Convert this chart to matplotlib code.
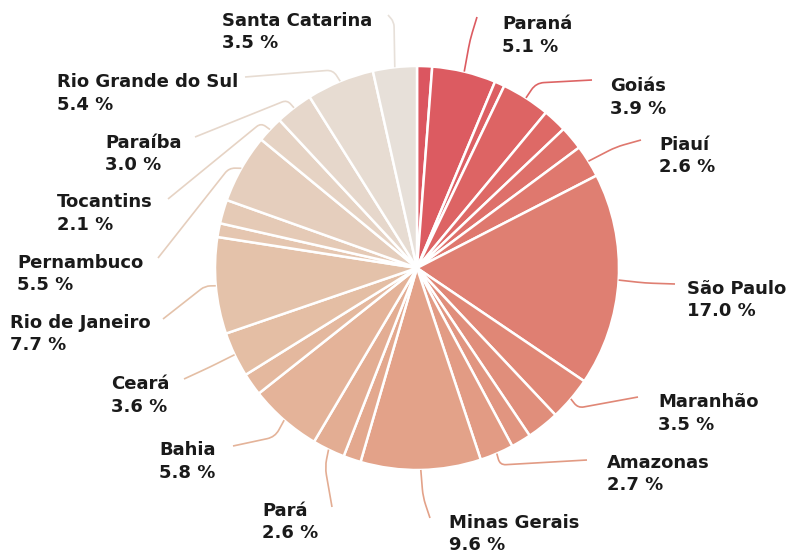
import numpy as np
import matplotlib
matplotlib.use("Agg")
from matplotlib import pyplot as plt
from matplotlib.colors import LinearSegmentedColormap
from matplotlib.path import Path
from matplotlib.patches import PathPatch

plt.rcParams['font.family'] = ['DejaVu Sans']

W, H = 791, 553

# fatias no sentido horário, começando no topo (rótulo vazio = estado sem legenda)
estados = ['', 'Paraná', '', 'Goiás', '', '', 'Piauí', 'São Paulo', 'Maranhão', '', '',
           'Amazonas', 'Minas Gerais', '', 'Pará', 'Bahia', '', 'Ceará', 'Rio de Janeiro',
           '', '', 'Pernambuco', 'Tocantins', 'Paraíba', 'Rio Grande do Sul', 'Santa Catarina']
percentual = [1.2, 5.1, 0.8, 3.9, 1.9, 1.9, 2.6, 17.0, 3.5, 2.6, 1.6,
              2.7, 9.6, 1.4, 2.6, 5.8, 1.8, 3.6, 7.7,
              1.1, 1.9, 5.5, 2.1, 3.0, 5.4, 3.5]

# posição dos textos e das linhas (pixels da imagem: x, y de cima para baixo)
# nome -> (texto_x, texto_y, joelho, ponta)
rotulos = {
    'Santa Catarina': (222, 21, (394, 22), (388, 15)),
    'Paraná': (502, 24, (470, 40), (477, 17)),
    'Goiás': (610, 86, (536, 83), (592, 80)),
    'Piauí': (659, 145, (616, 147), (641, 140)),
    'São Paulo': (687, 289, (645, 283), (675, 284)),
    'Maranhão': (658, 402, (578, 408), (638, 397)),
    'Amazonas': (607, 463, (500, 465), (587, 460)),
    'Minas Gerais': (449, 523, (423, 497), (430, 518)),
    'Pará': (262, 511, (325, 467), (332, 507)),
    'Bahia': (159, 450, (275, 437), (233, 446)),
    'Ceará': (111, 384, (210, 367), (184, 379)),
    'Rio de Janeiro': (10, 323, (205, 286), (163, 319)),
    'Pernambuco': (17, 263, (229, 168), (158, 258)),
    'Tocantins': (57, 202, (261, 123), (168, 199)),
    'Paraíba': (105, 143, (287, 100), (195, 137)),
    'Rio Grande do Sul': (57, 82, (333, 70), (245, 77)),
}

cmap = LinearSegmentedColormap.from_list(
    'br', ['#db5660', '#de6a66', '#e08a78', '#e3a58b', '#e4bca2', '#e5cdbb', '#e7e0d9'])
cores = [cmap(i / (len(percentual) - 1)) for i in range(len(percentual))]


def px(x, y):
    return (x, H - y)


def linha(ax, p0, p1, p2, cor, r=8):
    p0, p1, p2 = np.array(p0, float), np.array(p1, float), np.array(p2, float)
    d0 = p0 - p1
    d2 = p2 - p1
    r = min(r, np.linalg.norm(d0) / 2, np.linalg.norm(d2) / 2)
    a = p1 + r * d0 / np.linalg.norm(d0)
    b = p1 + r * d2 / np.linalg.norm(d2)
    verts = [p0, a, p1, b, p2]
    codes = [Path.MOVETO, Path.LINETO, Path.CURVE3, Path.CURVE3, Path.LINETO]
    ax.add_patch(PathPatch(Path(verts, codes), fill=False, edgecolor=cor, lw=1.2))


fig = plt.figure(figsize=(W / 100, H / 100), dpi=100)
ax = fig.add_axes([0, 0, 1, 1])

wedges, _ = ax.pie(percentual, colors=cores, startangle=90, counterclock=False,
                   center=px(417, 268), radius=202, frame=True,
                   wedgeprops=dict(edgecolor='white', linewidth=1.8))
ax.set_xlim(0, W)
ax.set_ylim(0, H)
ax.axis('off')

for w, nome, val, cor in zip(wedges, estados, percentual, cores):
    if not nome:
        continue
    tx, ty, joelho, ponta = rotulos[nome]
    meio = np.deg2rad((w.theta1 + w.theta2) / 2)
    borda = (w.center[0] + w.r * np.cos(meio), w.center[1] + w.r * np.sin(meio))
    linha(ax, borda, px(*joelho), px(*ponta), cor)
    ax.text(*px(tx, ty), nome, ha='left', va='center', fontsize=13,
            fontweight='bold', color='#1a1a1a')
    ax.text(*px(tx, ty + 22.5), f'{val:.1f} %', ha='left', va='center', fontsize=13,
            fontweight='bold', color='#1a1a1a')

fig.savefig('out.png', dpi=100)
